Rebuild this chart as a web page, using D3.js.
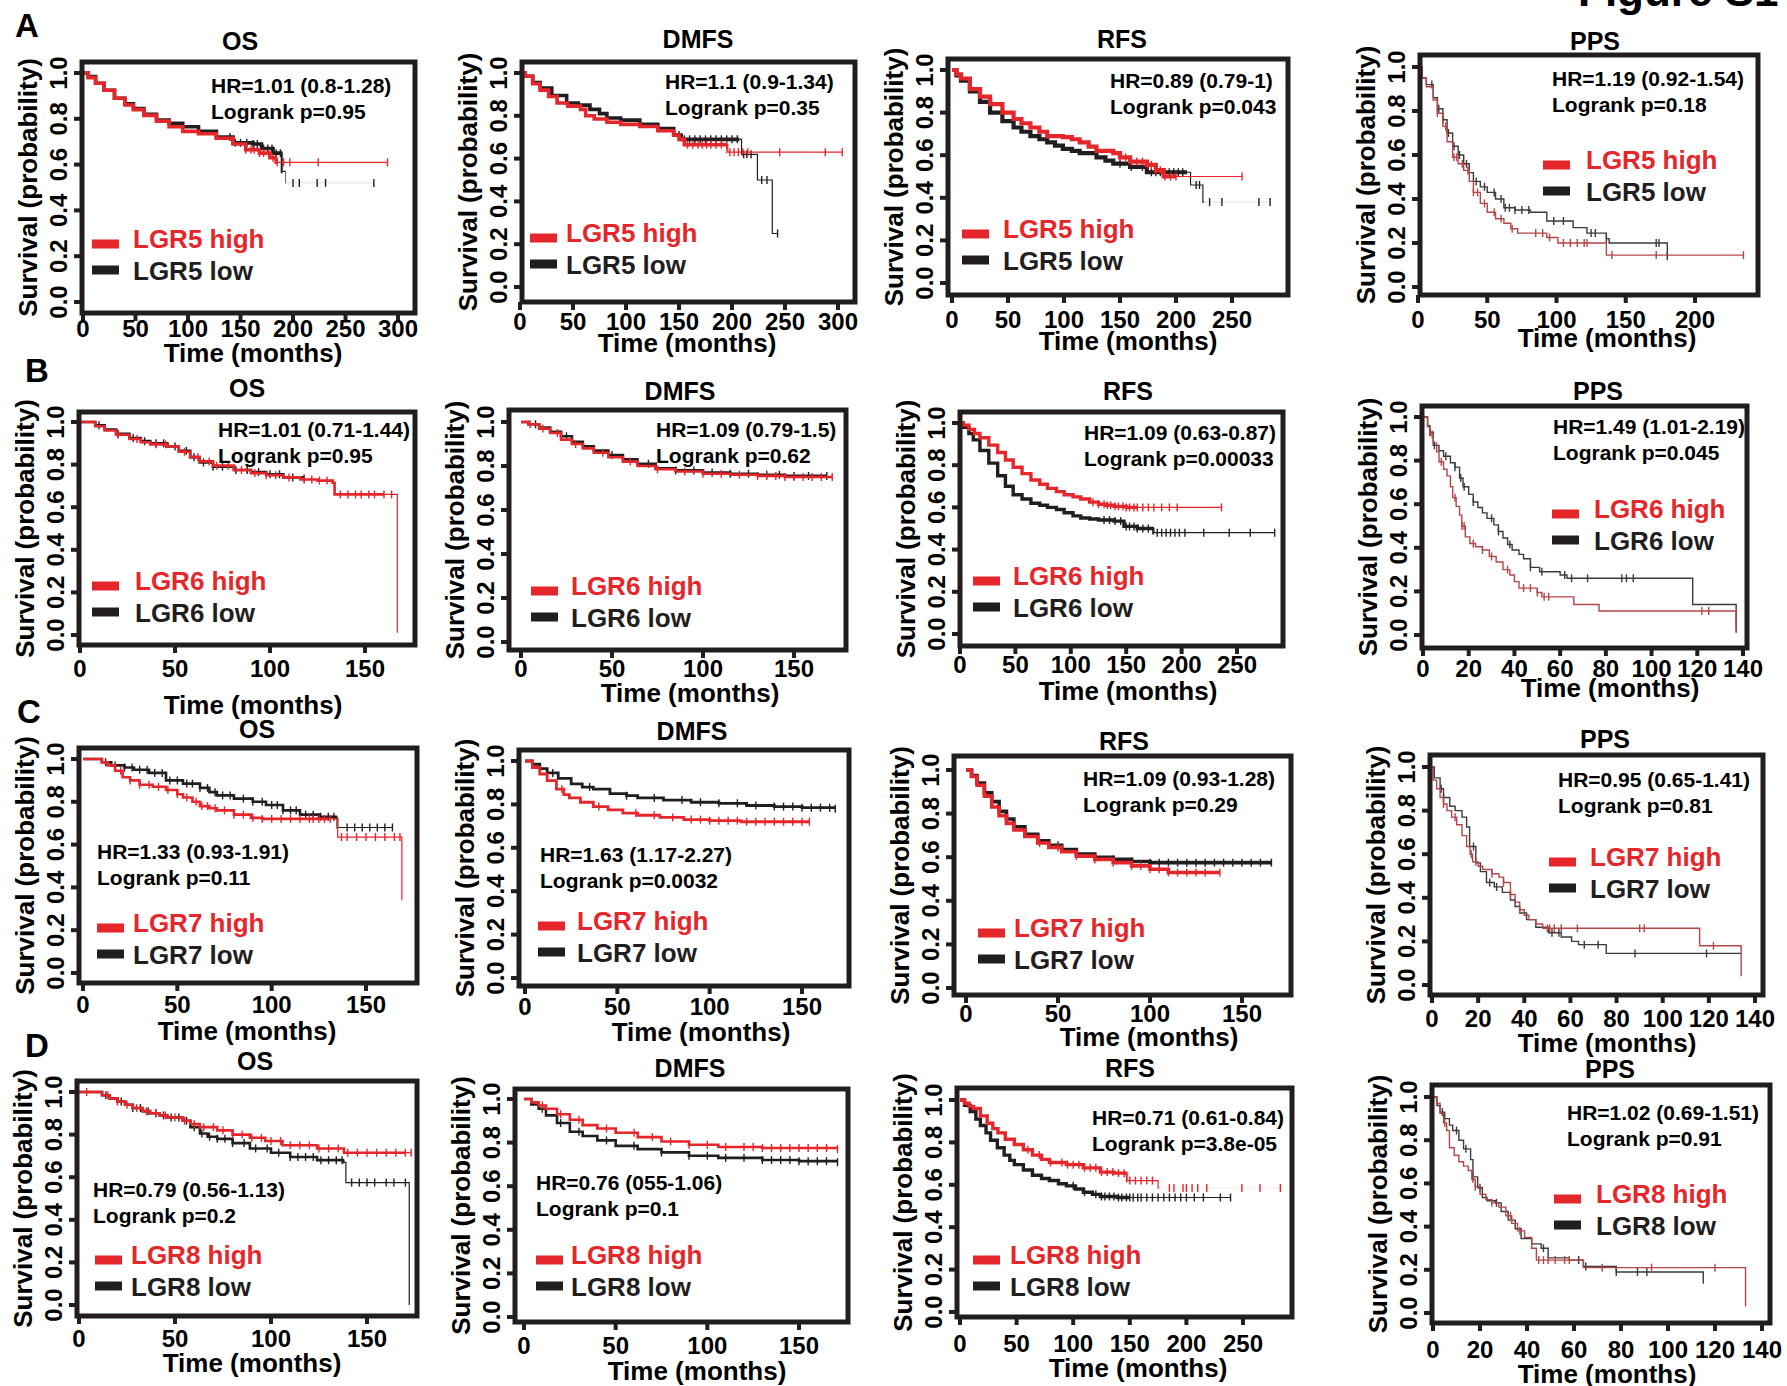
<!DOCTYPE html>
<html>
<head>
<meta charset="utf-8">
<script src="https://cdn.jsdelivr.net/npm/d3@7"></script>
<style>
  body { margin: 0; background: #fff; }
  svg { display: block; font-family: "Liberation Sans", Arial, sans-serif; font-weight: bold; }
</style>
</head>
<body>
<svg id="fig" width="1787" height="1386"></svg>
<script>
// ---- chart values ----
const rowLetters = ["A", "B", "C", "D"];
const genes = ["LGR5", "LGR6", "LGR7", "LGR8"];
const endpoints = ["OS", "DMFS", "RFS", "PPS"];
const hrLines = [
  ["HR=1.01 (0.8-1.28)", "HR=1.1 (0.9-1.34)", "HR=0.89 (0.79-1)", "HR=1.19 (0.92-1.54)"],
  ["HR=1.01 (0.71-1.44)", "HR=1.09 (0.79-1.5)", "HR=1.09 (0.63-0.87)", "HR=1.49 (1.01-2.19)"],
  ["HR=1.33 (0.93-1.91)", "HR=1.63 (1.17-2.27)", "HR=1.09 (0.93-1.28)", "HR=0.95 (0.65-1.41)"],
  ["HR=0.79 (0.56-1.13)", "HR=0.76 (055-1.06)", "HR=0.71 (0.61-0.84)", "HR=1.02 (0.69-1.51)"]
];
const logrankLines = [
  ["Logrank p=0.95", "Logrank p=0.35", "Logrank p=0.043", "Logrank p=0.18"],
  ["Logrank p=0.95", "Logrank p=0.62", "Logrank p=0.00033", "Logrank p=0.045"],
  ["Logrank p=0.11", "Logrank p=0.0032", "Logrank p=0.29", "Logrank p=0.81"],
  ["Logrank p=0.2", "Logrank p=0.1", "Logrank p=3.8e-05", "Logrank p=0.91"]
];
const xTickMax = [[300, 300, 250, 200], [150, 150, 250, 140], [150, 150, 150, 140], [150, 150, 250, 140]];
const xTickStep = [[50, 50, 50, 50], [50, 50, 50, 20], [50, 50, 50, 20], [50, 50, 50, 20]];
const yTicks = [0, 0.2, 0.4, 0.6, 0.8, 1.0];

// Kaplan-Meier step knots [months, survival]; censor times in months
const osA_hi = [[0,1],[5,0.98],[12,0.955],[20,0.925],[30,0.89],[40,0.86],[48,0.84],[58,0.815],[70,0.79],[82,0.765],[95,0.745],[110,0.735],[127,0.715],[143,0.69],[155,0.665],[168,0.65],[178,0.63],[184,0.61],[290,0.61]];
const osA_hiC = [155,160,163,168,172,177,181,185,191,197,224,290];
const osA_lo = [[0,1],[5,0.985],[12,0.955],[20,0.925],[30,0.89],[40,0.865],[48,0.845],[58,0.82],[70,0.795],[82,0.78],[95,0.765],[110,0.745],[127,0.72],[143,0.695],[162,0.69],[170,0.67],[181,0.65],[190,0.57],[193,0.52],[277,0.52]];
const osA_loC = [140,145,150,156,162,166,172,176,180,184,188,200,206,223,231,277];

const dmA_hi = [[0,1],[5,0.985],[12,0.95],[19,0.92],[27,0.89],[35,0.86],[45,0.845],[57,0.83],[62,0.80],[70,0.785],[82,0.77],[95,0.76],[113,0.75],[130,0.73],[145,0.71],[150,0.69],[155,0.665],[196,0.63],[304,0.63]];
const dmA_hiC = [158,163,168,172,176,180,185,190,195,198,202,206,210,215,245,288,304];
const dmA_lo = [[0,1],[5,0.985],[12,0.955],[19,0.93],[30,0.895],[44,0.86],[55,0.85],[66,0.83],[75,0.81],[82,0.79],[95,0.78],[113,0.76],[130,0.74],[145,0.71],[152,0.69],[209,0.62],[224,0.5],[238,0.25],[243,0.25]];
const dmA_loC = [150,155,160,165,170,175,180,185,190,195,200,205,211,214,218,228,233,243];

const rfA_hi = [[0,1],[4,0.98],[8,0.96],[16,0.91],[25,0.875],[34,0.84],[45,0.80],[55,0.77],[62,0.75],[70,0.73],[78,0.71],[85,0.69],[99,0.685],[107,0.675],[114,0.66],[122,0.64],[129,0.62],[144,0.61],[150,0.59],[159,0.57],[174,0.555],[182,0.53],[189,0.50],[259,0.50]];
const rfA_hiC = [150,155,160,165,170,175,178,182,186,190,195,200,259];
const rfA_lo = [[0,1],[4,0.975],[8,0.95],[16,0.90],[25,0.85],[34,0.80],[45,0.76],[55,0.73],[62,0.71],[70,0.69],[78,0.675],[85,0.66],[92,0.645],[99,0.63],[107,0.62],[114,0.61],[129,0.59],[137,0.575],[144,0.56],[159,0.545],[174,0.52],[213,0.46],[224,0.38],[284,0.38]];
const rfA_loC = [150,160,170,178,182,186,190,194,198,202,206,218,221,230,241,274,284];

const ppA_hi = [[0,1],[3,0.95],[6,0.91],[11,0.85],[14,0.79],[18,0.73],[21,0.66],[25,0.59],[29,0.56],[33,0.53],[37,0.48],[40,0.43],[45,0.38],[50,0.34],[56,0.31],[62,0.29],[67,0.265],[72,0.245],[93,0.225],[101,0.20],[136,0.145],[235,0.145]];
const ppA_hiC = [14,20,26,28,32,36,40,43,48,55,60,68,85,90,95,105,110,115,120,122,140,172,235];
const ppA_lo = [[0,1],[3,0.95],[6,0.92],[11,0.86],[14,0.81],[18,0.76],[21,0.70],[25,0.64],[29,0.60],[33,0.56],[37,0.52],[40,0.48],[45,0.455],[50,0.43],[56,0.40],[62,0.36],[70,0.35],[81,0.34],[93,0.30],[112,0.27],[122,0.245],[136,0.22],[138,0.20],[180,0.14]];
const ppA_loC = [10,15,18,22,26,30,35,42,48,55,60,63,66,70,75,80,98,105,125,128,136,172,174,180];

const osB_hi = [[0,1],[5,1],[8,0.98],[13,0.96],[19,0.94],[26,0.92],[32,0.905],[37,0.895],[46,0.885],[52,0.86],[58,0.835],[63,0.815],[70,0.795],[81,0.775],[90,0.76],[98,0.75],[107,0.74],[116,0.73],[125,0.725],[133,0.715],[134,0.66],[166,0.66],[167,0.01]];
const osB_hiC = [20,30,40,45,55,62,68,72,78,85,92,98,103,110,118,122,126,130,137,141,145,148,152,155,160,164];
const osB_lo = [[0,1],[5,1],[8,0.985],[13,0.965],[19,0.945],[26,0.925],[32,0.91],[37,0.90],[46,0.885],[52,0.865],[58,0.835],[63,0.81],[70,0.79],[81,0.775],[90,0.765],[98,0.755],[107,0.74],[118,0.735]];
const osB_loC = [10,20,28,34,40,44,50,56,60,65,70,75,82,88,94,100,105,112,118];

const dmB_hi = [[0,1],[4,0.99],[10,0.97],[16,0.95],[22,0.92],[28,0.90],[34,0.88],[40,0.86],[48,0.84],[56,0.82],[64,0.80],[74,0.785],[85,0.775],[100,0.765],[115,0.76],[130,0.755],[145,0.75],[171,0.75]];
const dmB_hiC = [5,12,20,30,45,60,75,90,100,110,120,130,135,140,145,150,155,160,165,171];
const dmB_lo = [[0,1],[4,0.99],[10,0.975],[16,0.955],[22,0.935],[28,0.91],[34,0.89],[40,0.87],[48,0.85],[56,0.83],[64,0.81],[74,0.79],[85,0.78],[100,0.77],[115,0.765],[130,0.76],[145,0.755],[168,0.755]];
const dmB_loC = [8,25,50,70,85,95,105,115,125,135,142,150,158,168];

const rfB_hi = [[0,1],[3,0.99],[8,0.97],[13,0.95],[18,0.93],[26,0.895],[34,0.86],[41,0.825],[48,0.79],[56,0.76],[64,0.73],[72,0.71],[79,0.69],[87,0.675],[94,0.66],[102,0.65],[109,0.64],[117,0.625],[125,0.615],[132,0.61],[139,0.605],[150,0.60],[236,0.60]];
const rfB_hiC = [120,125,130,133,136,140,143,147,150,153,157,160,165,170,175,182,189,196,236];
const rfB_lo = [[0,1],[3,0.98],[8,0.95],[12,0.92],[18,0.87],[26,0.81],[34,0.75],[41,0.70],[48,0.66],[56,0.64],[64,0.62],[72,0.61],[79,0.60],[87,0.59],[94,0.575],[102,0.56],[109,0.55],[117,0.545],[125,0.54],[139,0.535],[148,0.51],[160,0.50],[175,0.48],[284,0.48]];
const rfB_loC = [130,135,140,145,150,153,157,160,165,170,178,182,186,190,194,198,203,220,243,262,284];

const ppB_hi = [[0,1],[2,0.955],[3,0.92],[4.5,0.88],[6,0.84],[7,0.795],[9,0.76],[10.5,0.73],[12,0.68],[13,0.63],[14.5,0.59],[16,0.55],[17,0.50],[18.5,0.45],[20.5,0.42],[23,0.405],[26,0.39],[29,0.36],[32,0.335],[35,0.30],[38,0.275],[40,0.245],[42,0.215],[50,0.195],[52,0.175],[66,0.14],[77,0.11],[136,0.11],[137,0.02]];
const ppB_hiC = [4,8,14,17,18,22,26,30,37,44,47,50,53,55,122,125];
const ppB_lo = [[0,1],[2,0.96],[3,0.93],[4.5,0.87],[7,0.845],[9,0.82],[12,0.79],[14,0.77],[16,0.72],[17.5,0.68],[20,0.645],[22,0.61],[24,0.585],[26,0.56],[28,0.535],[31,0.505],[33,0.475],[35,0.445],[37,0.415],[39,0.39],[42,0.37],[44,0.35],[47,0.31],[51,0.29],[60,0.275],[63,0.26],[118,0.14],[136,0.14],[137,0.01]];
const ppB_loC = [3,5,10,14,16.5,18,22,30,33,38,47,52,62,65,72,87,89,92];

const osC_hi = [[0,1],[7,1],[10,0.985],[13,0.97],[17,0.945],[21,0.915],[25,0.90],[30,0.88],[37,0.87],[44,0.855],[50,0.835],[53,0.82],[58,0.80],[62,0.78],[67,0.77],[71,0.76],[80,0.74],[89,0.725],[95,0.72],[134,0.72],[135,0.635],[168,0.635],[169,0.34]];
const osC_hiC = [20,25,30,35,40,45,50,55,60,63,66,70,75,80,85,90,95,100,105,110,115,120,122,125,128,131,137,140,145,150,155,160,165,168];
const osC_lo = [[0,1],[7,1],[10,0.985],[15,0.97],[22,0.96],[27,0.95],[35,0.935],[44,0.90],[53,0.885],[62,0.865],[67,0.845],[71,0.83],[80,0.815],[90,0.80],[97,0.785],[106,0.76],[115,0.74],[125,0.73],[134,0.725],[135,0.68],[164,0.68]];
const osC_loC = [12,17,22,26,30,34,38,42,46,50,55,58,62,66,70,74,78,85,90,95,100,103,106,110,113,118,122,126,130,133,140,144,148,152,156,160,164];

const dmC_hi = [[0,1],[4,0.97],[8,0.94],[12,0.91],[17,0.87],[21,0.845],[24,0.83],[30,0.81],[37,0.79],[45,0.775],[53,0.76],[61,0.75],[73,0.74],[86,0.73],[100,0.725],[117,0.72],[154,0.72]];
const dmC_hiC = [20,40,60,70,80,90,95,100,105,110,115,120,125,130,135,140,145,150,154];
const dmC_lo = [[0,1],[4,0.985],[8,0.965],[12,0.945],[18,0.92],[25,0.895],[31,0.88],[37,0.87],[46,0.85],[55,0.84],[61,0.83],[75,0.82],[90,0.81],[105,0.805],[120,0.795],[135,0.79],[150,0.785],[168,0.78]];
const dmC_loC = [15,35,55,70,85,95,105,115,125,135,140,145,150,155,160,165,168];

const rfC_hi = [[0,1],[3,0.97],[6,0.93],[10,0.88],[14,0.83],[18,0.79],[22,0.755],[26,0.725],[32,0.695],[39,0.665],[45,0.645],[52,0.625],[60,0.605],[70,0.59],[80,0.575],[90,0.56],[100,0.545],[110,0.53],[138,0.53]];
const rfC_hiC = [40,50,60,70,80,90,95,100,105,110,115,120,125,130,138];
const rfC_lo = [[0,1],[3,0.975],[6,0.94],[10,0.895],[14,0.855],[18,0.81],[22,0.775],[26,0.74],[32,0.705],[39,0.675],[45,0.655],[52,0.635],[60,0.615],[70,0.60],[80,0.59],[90,0.58],[100,0.575],[166,0.575]];
const rfC_loC = [50,60,70,80,90,100,105,110,115,120,125,130,135,140,145,150,155,160,166];

const ppC_hi = [[0,1],[0.5,0.94],[2,0.90],[3.5,0.86],[5,0.83],[6.5,0.80],[8.5,0.77],[10.7,0.735],[13,0.685],[15,0.635],[16.5,0.60],[17.6,0.565],[20,0.545],[22,0.53],[26,0.51],[29,0.495],[31,0.47],[34,0.415],[36,0.38],[38,0.345],[40,0.32],[42,0.30],[45,0.28],[48,0.26],[116,0.18],[134,0.04]];
const ppC_hiC = [5,10,17,19,26,31,34,38,50,51,53,56,63,90,92,122];
const ppC_lo = [[0,1],[1,0.95],[3.5,0.90],[5,0.86],[7.7,0.82],[10,0.80],[13,0.77],[15,0.725],[16.3,0.635],[19,0.56],[21,0.52],[23.6,0.47],[27,0.45],[30.5,0.425],[34,0.39],[36,0.36],[38,0.33],[41,0.30],[45,0.265],[50.6,0.24],[56,0.22],[60.5,0.20],[63.5,0.185],[75.5,0.145],[134,0.145]];
const ppC_loC = [4,5,18,25,28,52,55,66,72,88,119];

const osD_hi = [[0,1],[9,1],[12,0.985],[16,0.97],[20,0.955],[24,0.94],[28,0.925],[33,0.91],[37,0.90],[42,0.89],[46,0.88],[54,0.865],[58,0.85],[63,0.835],[72,0.82],[80,0.80],[89,0.785],[97,0.77],[106,0.75],[124,0.735],[138,0.715],[173,0.715]];
const osD_hiC = [4,15,20,25,30,35,40,45,50,55,60,65,70,75,80,85,90,95,100,105,110,115,120,125,130,135,140,145,150,155,160,165,170,173];
const osD_lo = [[0,1],[9,1],[12,0.985],[16,0.97],[20,0.955],[24,0.94],[28,0.925],[33,0.91],[37,0.90],[42,0.89],[46,0.88],[54,0.865],[58,0.835],[63,0.805],[67,0.79],[72,0.78],[80,0.76],[89,0.735],[100,0.715],[110,0.695],[124,0.68],[138,0.67],[139,0.575],[171,0.575],[172,0.0]];
const osD_loC = [14,22,28,32,36,40,44,48,52,56,60,64,68,72,76,80,86,92,98,104,110,114,118,122,126,130,134,137,142,146,150,154,160,164,170];

const dmD_hi = [[0,1],[4,0.985],[8,0.97],[12,0.955],[18,0.93],[25,0.905],[32,0.88],[40,0.865],[50,0.845],[62,0.825],[75,0.805],[90,0.79],[106,0.78],[130,0.775],[171,0.77]];
const dmD_hiC = [10,20,30,45,60,70,80,90,100,110,120,125,130,135,140,145,150,155,160,165,171];
const dmD_lo = [[0,1],[4,0.975],[8,0.955],[12,0.925],[18,0.89],[25,0.85],[32,0.83],[40,0.81],[50,0.785],[62,0.77],[75,0.755],[90,0.74],[106,0.73],[130,0.72],[150,0.715],[171,0.71]];
const dmD_loC = [10,20,30,45,60,75,90,100,110,120,130,135,140,145,150,155,160,165,171];

const rfD_hi = [[0,1],[4,0.985],[8,0.97],[12,0.96],[18,0.925],[24,0.89],[29,0.865],[33.5,0.845],[40,0.815],[48,0.79],[56,0.765],[64,0.74],[72,0.72],[79,0.705],[94,0.695],[109,0.68],[124,0.66],[136,0.655],[148,0.62],[175,0.585],[283,0.585]];
const rfD_hiC = [60,70,80,90,95,100,105,110,115,120,125,130,135,140,145,150,155,160,165,170,185,189,197,200,205,210,218,249,265,283];
const rfD_lo = [[0,1],[4,0.975],[9,0.945],[14,0.91],[18,0.88],[23,0.845],[27,0.81],[33,0.775],[39,0.74],[44,0.715],[48,0.695],[56,0.67],[64,0.645],[72,0.63],[79,0.62],[87,0.605],[94,0.595],[102,0.58],[109,0.565],[117,0.555],[124,0.545],[139,0.54],[239,0.54]];
const rfD_loC = [100,110,120,125,128,132,136,140,143,147,150,153,157,160,165,170,175,180,185,190,195,200,207,215,230,239];

const ppD_hi = [[0,1],[1.5,0.97],[3,0.925],[4.5,0.88],[5.8,0.845],[7,0.765],[9,0.73],[11,0.70],[13,0.68],[15,0.66],[16.5,0.62],[18,0.585],[20,0.55],[22.5,0.525],[25,0.51],[28,0.49],[31,0.45],[33.5,0.415],[36,0.38],[39,0.35],[42,0.30],[44,0.245],[64,0.21],[133,0.03]];
const ppD_hiC = [5,17,18,25,33,37,45,47,49,52,56,58,72,93,120];
const ppD_lo = [[0,1],[1.7,0.96],[3,0.93],[5,0.90],[7,0.87],[8.4,0.845],[11,0.80],[13,0.76],[16,0.71],[17,0.63],[19,0.58],[21,0.535],[23,0.52],[26.5,0.51],[29,0.47],[32,0.43],[35,0.39],[37.5,0.345],[42,0.32],[46,0.30],[49,0.255],[58,0.245],[64,0.215],[78,0.19],[115,0.135]];
const ppD_loC = [4,10,14,17,20,27,47,62,65,78,87,91];

const curves = [
  [[osA_hi, osA_hiC, osA_lo, osA_loC], [dmA_hi, dmA_hiC, dmA_lo, dmA_loC], [rfA_hi, rfA_hiC, rfA_lo, rfA_loC], [ppA_hi, ppA_hiC, ppA_lo, ppA_loC]],
  [[osB_hi, osB_hiC, osB_lo, osB_loC], [dmB_hi, dmB_hiC, dmB_lo, dmB_loC], [rfB_hi, rfB_hiC, rfB_lo, rfB_loC], [ppB_hi, ppB_hiC, ppB_lo, ppB_loC]],
  [[osC_hi, osC_hiC, osC_lo, osC_loC], [dmC_hi, dmC_hiC, dmC_lo, dmC_loC], [rfC_hi, rfC_hiC, rfC_lo, rfC_loC], [ppC_hi, ppC_hiC, ppC_lo, ppC_loC]],
  [[osD_hi, osD_hiC, osD_lo, osD_loC], [dmD_hi, dmD_hiC, dmD_lo, dmD_loC], [rfD_hi, rfD_hiC, rfD_lo, rfD_loC], [ppD_hi, ppD_hiC, ppD_lo, ppD_loC]]
];

// ---- layout (pixels) ----
// f: frame box, x: pixel of 0 and of last tick, y: pixel of 0 and of 1, tl: tick-label baseline,
// tt: panel title, xt: x-axis title, hr: HR text, lg: [swatch x, text x, first baseline]
const layout = [
  [
    {f:[82,62,415,313], x:[83,398], y:[302,73], tl:337, tt:[240,50], xt:[253,362], hr:[211,93], lg:[92,133,248]},
    {f:[522,62,855,302], x:[520,838], y:[287,73], tl:330, tt:[698,48], xt:[687,352], hr:[665,89], lg:[530,566,242]},
    {f:[948,59,1288,295], x:[952,1232], y:[283,70], tl:328, tt:[1122,48], xt:[1128,350], hr:[1110,88], lg:[962,1003,238]},
    {f:[1420,55,1758,295], x:[1418,1695], y:[287,67], tl:328, tt:[1595,50], xt:[1607,347], hr:[1552,86], lg:[1543,1586,169]}
  ],
  [
    {f:[79,412,415,645], x:[80,365], y:[635,422], tl:677, tt:[247,397], xt:[253,714], hr:[218,437], lg:[92,135,590]},
    {f:[509,410,846,650], x:[521,794], y:[642,422], tl:677, tt:[680,400], xt:[690,702], hr:[656,437], lg:[531,571,595]},
    {f:[960,412,1283,646], x:[960,1237], y:[634,423], tl:673, tt:[1128,400], xt:[1128,700], hr:[1084,440], lg:[973,1013,585]},
    {f:[1422,406,1747,648], x:[1423,1743], y:[635,417], tl:677, tt:[1598,400], xt:[1610,697], hr:[1553,434], lg:[1552,1594,518]}
  ],
  [
    {f:[79,748,417,983], x:[83,366], y:[973,759], tl:1013, tt:[257,738], xt:[247,1040], hr:[97,859], lg:[97,133,932]},
    {f:[519,750,849,986], x:[525,802], y:[978,761], tl:1015, tt:[692,740], xt:[701,1041], hr:[540,862], lg:[538,577,930]},
    {f:[954,756,1291,995], x:[966,1242], y:[988,770], tl:1022, tt:[1124,750], xt:[1149,1046], hr:[1083,786], lg:[978,1014,937]},
    {f:[1430,755,1763,995], x:[1432,1755], y:[985,767], tl:1027, tt:[1605,748], xt:[1607,1052], hr:[1558,787], lg:[1549,1590,866]}
  ],
  [
    {f:[77,1081,417,1316], x:[79,367], y:[1305,1092], tl:1347, tt:[255,1070], xt:[252,1372], hr:[93,1197], lg:[95,131,1264]},
    {f:[515,1089,848,1322], x:[524,799], y:[1317,1099], tl:1354, tt:[690,1077], xt:[697,1380], hr:[536,1190], lg:[536,571,1264]},
    {f:[957,1088,1292,1317], x:[960,1243], y:[1312,1100], tl:1352, tt:[1130,1077], xt:[1138,1377], hr:[1092,1125], lg:[973,1010,1264]},
    {f:[1432,1085,1770,1323], x:[1433,1762], y:[1313,1097], tl:1358, tt:[1610,1078], xt:[1607,1383], hr:[1567,1120], lg:[1554,1596,1203]}
  ]
];
const letterPos = [[15,37], [25,382], [17,723], [25,1057]];

// line styles: wide = stroke of the dense (many censored) part, bulk = where dense part ends, fade = where line gets faint
const lineStyle = [
  [{wide:3.6, hi:{bulk:185}, lo:{bulk:190, fade:193}}, {wide:3.6, hi:{bulk:195}, lo:{bulk:207}},
   {wide:4.2, hi:{bulk:200}, lo:{bulk:210, fade:225}}, {pps:true, hi:{}, lo:{}}],
  [{wide:2.6, hi:{bulk:160}, lo:{bulk:118}}, {wide:2.6, hi:{bulk:171}, lo:{bulk:168}},
   {wide:3.4, hi:{bulk:160}, lo:{bulk:175}}, {pps:true, hi:{}, lo:{}}],
  [{wide:2.6, hi:{bulk:130}, lo:{bulk:135}}, {wide:2.8, hi:{bulk:154}, lo:{bulk:168}},
   {wide:3.6, hi:{bulk:138}, lo:{bulk:166}}, {pps:true, hi:{}, lo:{}}],
  [{wide:2.6, hi:{bulk:170}, lo:{bulk:138}}, {wide:2.6, hi:{bulk:171}, lo:{bulk:171}},
   {wide:3.4, hi:{bulk:148, fade:176}, lo:{bulk:150}}, {pps:true, hi:{}, lo:{}}]
];

const RED = "#e5262b", BLACK = "#221e1f";
const PPS_RED = "#b5464a", PPS_BLACK = "#3b3b3b";

const svg = d3.select("#fig");
let clipCount = 0;

function stepAt(curve, t) {
  let v = curve[0][1];
  for (const [ti, si] of curve) {
    if (ti <= t) v = si; else break;
  }
  return v;
}

function drawSeries(g, sx, sy, curve, cens, color, st, wide, thin) {
  const line = d3.line().curve(d3.curveStepAfter).x(d => sx(d[0])).y(d => sy(d[1]));
  let segs = [];
  const fade = st.fade != null ? st.fade : null;
  if (st.bulk != null) segs.push([null, st.bulk, wide, 1]);
  segs.push([st.bulk != null ? st.bulk : null, fade, thin, 1]);
  if (fade != null) segs.push([fade, null, thin, 0.12]);

  segs.forEach(s => {
    const id = "clip" + (clipCount++);
    const x0 = s[0] == null ? 0 : sx(s[0]);
    const x1 = s[1] == null ? 1787 : sx(s[1]);
    svg.select("defs").append("clipPath").attr("id", id)
      .append("rect").attr("x", x0).attr("y", 0).attr("width", Math.max(0, x1 - x0)).attr("height", 1386);
    g.append("path")
      .attr("d", line(curve))
      .attr("fill", "none")
      .attr("stroke", color)
      .attr("stroke-width", s[2])
      .attr("stroke-opacity", s[3])
      .attr("clip-path", `url(#${id})`);
  });

  g.selectAll(null)
    .data(cens)
    .enter()
    .append("line")
      .attr("x1", t => sx(t))
      .attr("x2", t => sx(t))
      .attr("y1", t => sy(stepAt(curve, t)) - 4)
      .attr("y2", t => sy(stepAt(curve, t)) + 4)
      .attr("stroke", color)
      .attr("stroke-width", 1.4);
}

svg.append("defs");

// "Figure S1" heading, cut off by the top edge
svg.append("text")
  .attr("x", 1578).attr("y", 6)
  .attr("font-size", 44)
  .text("Figure S1");

rowLetters.forEach((letter, r) => {
  svg.append("text")
    .attr("x", letterPos[r][0]).attr("y", letterPos[r][1])
    .attr("font-size", 33)
    .text(letter);

  endpoints.forEach((ep, c) => {
    const L = layout[r][c];
    const st = lineStyle[r][c];
    const [hi, hiC, lo, loC] = curves[r][c];
    const g = svg.append("g");

    const sx = d3.scaleLinear().domain([0, xTickMax[r][c]]).range(L.x);
    const sy = d3.scaleLinear().domain([0, 1]).range(L.y);

    // curves
    const red = st.pps ? PPS_RED : RED;
    const black = st.pps ? PPS_BLACK : BLACK;
    const thin = st.pps ? 1.4 : 1.2;
    drawSeries(g, sx, sy, lo, loC, black, st.lo, st.wide, thin);
    drawSeries(g, sx, sy, hi, hiC, red, st.hi, st.wide, thin);

    // frame
    g.append("rect")
      .attr("x", L.f[0]).attr("y", L.f[1])
      .attr("width", L.f[2] - L.f[0]).attr("height", L.f[3] - L.f[1])
      .attr("fill", "none")
      .attr("stroke", BLACK)
      .attr("stroke-width", 5);

    // y ticks + rotated labels
    g.selectAll(null).data(yTicks).enter().append("line")
      .attr("x1", L.f[0] - 8).attr("x2", L.f[0])
      .attr("y1", d => sy(d)).attr("y2", d => sy(d))
      .attr("stroke", BLACK).attr("stroke-width", 4);
    g.selectAll(null).data(yTicks).enter().append("text")
      .attr("transform", d => `translate(${L.f[0] - 24},${sy(d)}) rotate(-90)`)
      .attr("text-anchor", "middle")
      .attr("dy", "0.36em")
      .attr("font-size", 24)
      .text(d => d3.format(".1f")(d));

    // x ticks + labels
    const xt = d3.range(0, xTickMax[r][c] + 1, xTickStep[r][c]);
    g.selectAll(null).data(xt).enter().append("line")
      .attr("x1", d => sx(d)).attr("x2", d => sx(d))
      .attr("y1", L.f[3]).attr("y2", L.f[3] + 8)
      .attr("stroke", BLACK).attr("stroke-width", 4);
    g.selectAll(null).data(xt).enter().append("text")
      .attr("x", d => sx(d)).attr("y", L.tl)
      .attr("text-anchor", "middle")
      .attr("font-size", 24)
      .text(d => d);

    // axis titles
    g.append("text")
      .attr("x", L.xt[0]).attr("y", L.xt[1])
      .attr("text-anchor", "middle")
      .attr("font-size", 26)
      .text("Time (months)");
    g.append("text")
      .attr("transform", `translate(${L.f[0] - 54},${(L.f[1] + L.f[3]) / 2}) rotate(-90)`)
      .attr("text-anchor", "middle")
      .attr("dy", "0.36em")
      .attr("font-size", 26)
      .text("Survival (probability)");

    // panel title
    g.append("text")
      .attr("x", L.tt[0]).attr("y", L.tt[1])
      .attr("text-anchor", "middle")
      .attr("font-size", 25)
      .text(ep);

    // HR / logrank
    g.append("text").attr("x", L.hr[0]).attr("y", L.hr[1]).attr("font-size", 21).text(hrLines[r][c]);
    g.append("text").attr("x", L.hr[0]).attr("y", L.hr[1] + 26).attr("font-size", 21).text(logrankLines[r][c]);

    // legend
    const legItems = [[genes[r] + " high", RED, 4], [genes[r] + " low", BLACK, 10]];
    legItems.forEach(([label, col, off], i) => {
      const base = L.lg[2] + i * 32;
      g.append("rect")
        .attr("x", L.lg[0]).attr("y", base - off - 4.5)
        .attr("width", 27).attr("height", 9)
        .attr("fill", col);
      g.append("text")
        .attr("x", L.lg[1]).attr("y", base)
        .attr("font-size", 26)
        .attr("fill", col)
        .text(label);
    });
  });
});
</script>
</body>
</html>
